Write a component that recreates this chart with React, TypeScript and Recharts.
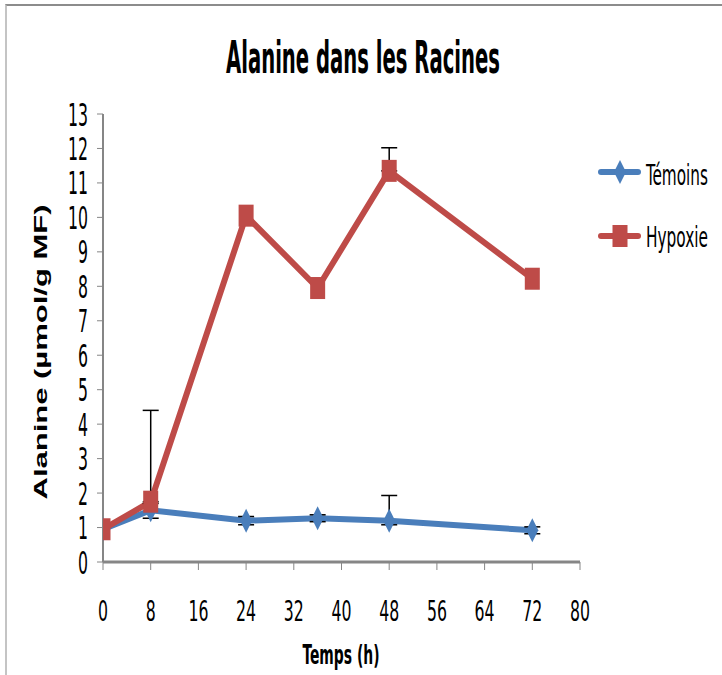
import React from 'react';
import { LineChart, Line, XAxis, YAxis, ErrorBar, Legend, Customized } from 'recharts';

const times = [0, 8, 24, 36, 48, 72];
const temoins = [0.95, 1.5, 1.2, 1.27, 1.2, 0.92];
const temoinsErrLow: (number | null)[] = [null, 0.23, 0.12, 0.1, 0.12, 0.1];
const temoinsErrHigh: (number | null)[] = [null, 0.2, 0.12, 0.1, 0.73, 0.1];
const hypoxie = [0.95, 1.75, 10.05, 7.95, 11.35, 8.22];
const hypoxieErrLow: (number | null)[] = [null, 0, null, null, 0, null];
const hypoxieErrHigh: (number | null)[] = [null, 2.65, null, null, 0.67, null];
const xTicks = [0, 8, 16, 24, 32, 40, 48, 56, 64, 72, 80];
const yTicks = [0, 1, 2, 3, 4, 5, 6, 7, 8, 9, 10, 11, 12, 13];

const data = times.map((t, i) => ({
  t,
  temoins: temoins[i],
  temoinsErr: temoinsErrLow[i] == null ? null : [temoinsErrLow[i], temoinsErrHigh[i]],
  hypoxie: hypoxie[i],
  hypoxieErr: hypoxieErrLow[i] == null ? null : [hypoxieErrLow[i], hypoxieErrHigh[i]],
}));

const BLUE = '#4A7EBB';
const RED = '#BE4B48';
const AXIS = '#868686';
const NARROW = "'Liberation Sans Narrow', 'DejaVu Sans Condensed', 'Roboto Condensed', sans-serif";

const YTick = (props: any) => {
  const { x, y, payload } = props;
  const s = String(payload.value);
  return (
    <text x={x} y={y + 11.5} textAnchor="end" fontFamily={NARROW} fontSize={32}
      fill="#000" textLength={s.length * 10} lengthAdjust="spacingAndGlyphs">{s}</text>
  );
};

const XTick = (props: any) => {
  const { x, payload } = props;
  const s = String(payload.value);
  return (
    <text x={x} y={621} textAnchor="middle" fontFamily={NARROW} fontSize={28}
      fill="#000" textLength={s.length * 10} lengthAdjust="spacingAndGlyphs">{s}</text>
  );
};

const Diamond = (props: any) => {
  const { cx, cy, fill } = props;
  if (cx == null || cy == null) return null;
  return <path d={`M${cx},${cy - 12} L${cx + 6},${cy} L${cx},${cy + 12} L${cx - 6},${cy} Z`} fill={fill} />;
};

const Square = (props: any) => {
  const { cx, cy, fill } = props;
  if (cx == null || cy == null) return null;
  return <rect x={cx - 7.5} y={cy - 11} width={15} height={22} fill={fill} />;
};

const renderLegend = () => (
  <svg width={125} height={110} style={{ display: 'block' }}>
    <line x1={11} y1={22} x2={48} y2={22} stroke={BLUE} strokeWidth={6} strokeLinecap="round" />
    <Diamond cx={30} cy={22} fill={BLUE} />
    <text x={56} y={35} fontFamily={NARROW} fontSize={28} fill="#000"
      textLength={62} lengthAdjust="spacingAndGlyphs">Témoins</text>
    <line x1={11} y1={86} x2={48} y2={86} stroke={RED} strokeWidth={6} strokeLinecap="round" />
    <Square cx={30} cy={86} fill={RED} />
    <text x={56} y={97} fontFamily={NARROW} fontSize={28} fill="#000"
      textLength={62} lengthAdjust="spacingAndGlyphs">Hypoxie</text>
  </svg>
);

const Title = () => (
  <text x={363} y={73} textAnchor="middle" fontFamily={NARROW} fontWeight="bold"
    fontSize={45} fill="#000" textLength={274} lengthAdjust="spacingAndGlyphs">Alanine dans les Racines</text>
);

const YLabel = () => (
  <text x={40} y={352} transform="rotate(-90 40 352)" textAnchor="middle" dominantBaseline="central"
    fontFamily="'Liberation Sans', Arial, sans-serif" fontWeight="bold" fontSize={19} fill="#000"
    textLength={295} lengthAdjust="spacingAndGlyphs">Alanine (µmol/g  MF)</text>
);

const XLabel = () => (
  <text x={341} y={664} textAnchor="middle" fontFamily={NARROW} fontWeight="bold"
    fontSize={27} fill="#000" textLength={77} lengthAdjust="spacingAndGlyphs">Temps (h)</text>
);

export default function App() {
  const ebZ: any = { zIndex: 450 };
  return (
    <div style={{ position: 'absolute', left: 0, top: 0, width: 722, height: 675, background: '#fff', overflow: 'hidden' }}>
      <div style={{ position: 'absolute', left: 5, top: 4, width: 730, height: 690, borderTop: '2px solid #8c8c8c', borderLeft: '2px solid #c4c4c4' }} />
      <div style={{ position: 'absolute', left: 0, top: 0 }}>
        <LineChart width={722} height={675} data={data} margin={{ top: 114, right: 142, bottom: 0, left: 0 }}>
          <XAxis dataKey="t" type="number" domain={[0, 80]} ticks={xTicks} interval={0}
            stroke={AXIS} strokeWidth={3} tickSize={8} tickMargin={2} tickLine={{ stroke: AXIS, strokeWidth: 1 }}
            tick={<XTick />} height={113} allowDataOverflow />
          <YAxis type="number" domain={[0, 13]} ticks={yTicks} interval={0} width={103}
            stroke={AXIS} strokeWidth={2} tickSize={6} tickMargin={9} tickLine={{ stroke: AXIS, strokeWidth: 1 }}
            tick={<YTick />} allowDataOverflow />
          <Legend content={renderLegend} layout="vertical" verticalAlign="middle" align="center"
            wrapperStyle={{ position: 'absolute', left: 590, top: 150, width: 125, height: 110 }} />
          <Line dataKey="temoins" name="Témoins" stroke={BLUE} strokeWidth={6} dot={false}
            activeDot={false} isAnimationActive={false}>
            <ErrorBar dataKey="temoinsErr" direction="y" width={8} stroke="#000" strokeWidth={1.5} {...ebZ} />
          </Line>
          <Line dataKey="hypoxie" name="Hypoxie" stroke={RED} strokeWidth={6} dot={false}
            activeDot={false} isAnimationActive={false}>
            <ErrorBar dataKey="hypoxieErr" direction="y" width={8} stroke="#000" strokeWidth={1.5} {...ebZ} />
          </Line>
          <Line dataKey="temoins" name="Témoins markers" stroke="none" legendType="none" zIndex={1500}
            dot={(p: any) => <Diamond key={`d${p.index}`} cx={p.cx} cy={p.cy} fill={BLUE} />}
            activeDot={false} isAnimationActive={false} />
          <Line dataKey="hypoxie" name="Hypoxie markers" stroke="none" legendType="none" zIndex={1600}
            dot={(p: any) => <Square key={`s${p.index}`} cx={p.cx} cy={p.cy} fill={RED} />}
            activeDot={false} isAnimationActive={false} />
          <Customized component={Title} />
          <Customized component={YLabel} />
          <Customized component={XLabel} />
        </LineChart>
      </div>
    </div>
  );
}
